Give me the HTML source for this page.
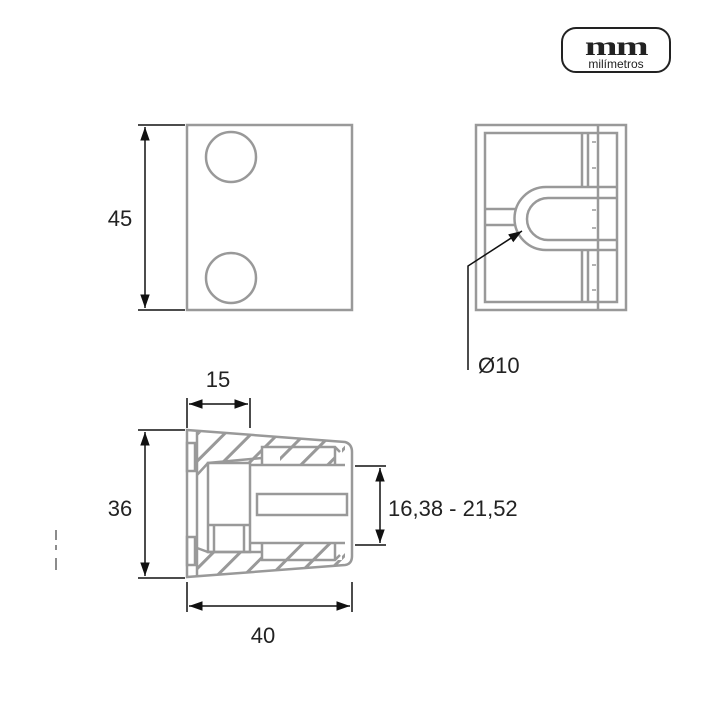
<!DOCTYPE html>
<html><head><meta charset="utf-8"><style>
html,body{margin:0;padding:0;background:#fff;}
svg{display:block;}
text{font-family:"Liberation Sans",sans-serif;fill:#222;}
</style></head><body>
<svg width="720" height="720" viewBox="0 0 720 720" xmlns="http://www.w3.org/2000/svg">
<defs>
<marker id="a" viewBox="0 0 10 10" refX="10" refY="5" markerWidth="9" markerHeight="9" orient="auto-start-reverse"><path d="M0,1.5 L10,5 L0,8.5 z" fill="#111"/></marker>
<pattern id="h" patternUnits="userSpaceOnUse" width="19" height="19" patternTransform="rotate(45)"><rect x="8" y="0" width="3" height="19" fill="#999"/></pattern>
<clipPath id="c1"><path d="M197,432 L345,442 L345,465 L250,465 L250,463 L208,463 L197,475 Z"/></clipPath>
<clipPath id="c2"><path d="M197,576 L345,564 L345,543 L250,543 L250,552 L208,552 L197,548 Z"/></clipPath>
</defs>
<rect x="562" y="28" width="108" height="44" rx="14" fill="none" stroke="#222" stroke-width="2"/>
<text x="616" y="55" text-anchor="middle" transform="translate(616 0) scale(1.45 1) translate(-616 0)" style="font-family:'Liberation Serif',serif;font-weight:bold;font-size:27px;letter-spacing:-1px" fill="#111">mm</text>
<text x="616" y="68" text-anchor="middle" font-size="12">milímetros</text>
<path d="M56,530 v10 M56,545 v5 M56,558 v12" stroke="#666" stroke-width="1.5"/>

<g fill="none" stroke="#999" stroke-width="2.5">
<rect x="187" y="125" width="165" height="185"/>
<circle cx="231" cy="157" r="25"/>
<circle cx="231" cy="278" r="25"/>
<rect x="476" y="125" width="150" height="185"/>
<rect x="485" y="133" width="132" height="169"/>
<line x1="598" y1="125" x2="598" y2="310"/>
<path d="M582,133 V187 M588,133 V187 M582,250 V302 M588,250 V302"/>
<path d="M617,187 H546 A31,31 0 0 0 546,250 H617"/>
<path d="M617,198 H548 A21,21 0 0 0 548,240 H617"/>
<path d="M485,209 H515 M485,225 H515"/>
<path d="M592,142 h4 M592,168 h4 M592,210 h4 M592,228 h4 M592,265 h4 M592,290 h4" stroke-width="1.5"/>
<g clip-path="url(#c1)"><rect x="180" y="420" width="180" height="60" fill="url(#h)" stroke="none"/></g>
<g clip-path="url(#c2)"><rect x="180" y="530" width="180" height="60" fill="url(#h)" stroke="none"/></g>
<rect x="262" y="446" width="80" height="19" fill="#fff" stroke="none"/>
<rect x="262" y="543" width="80" height="17" fill="#fff" stroke="none"/>
<g clip-path="url(#c1)"><rect x="280" y="447" width="56" height="18" fill="url(#h)" stroke="none"/></g>
<g clip-path="url(#c2)"><rect x="280" y="543" width="56" height="17" fill="url(#h)" stroke="none"/></g>
<path d="M187,430 L345,442 Q352,444 352,452 V556 Q352,564 345,565 L187,577 Z"/>
<path d="M197,432 V576"/>
<rect x="187" y="443" width="8" height="28"/>
<rect x="187" y="537" width="8" height="28"/>
<path d="M197,475 L208,463 L262,458"/>
<path d="M197,548 L208,552 H262"/>
<rect x="208" y="463" width="42" height="89"/>
<path d="M208,525 H250 M214,525 V552 M244,525 V552"/>
<path d="M250,465 H345 M250,543 H345"/>
<path d="M262,465 V447 H335 L340,452 M262,543 V560 H335 L340,555"/>
<path d="M335,447 V465 M335,543 V560"/>
<rect x="257" y="494" width="90" height="21"/>
</g>

<g stroke="#111" stroke-width="1.5" fill="none">
<path d="M138,125 H185 M138,310 H185"/>
<line x1="145" y1="127" x2="145" y2="308" marker-start="url(#a)" marker-end="url(#a)"/>
<path d="M468,370 V266 L522,231" marker-end="url(#a)"/>
<path d="M187,398 V428 M250,398 V428"/>
<line x1="189" y1="404" x2="248" y2="404" marker-start="url(#a)" marker-end="url(#a)"/>
<path d="M138,430 H185 M138,578 H185"/>
<line x1="145" y1="432" x2="145" y2="576" marker-start="url(#a)" marker-end="url(#a)"/>
<path d="M187,582 V612 M352,582 V612"/>
<line x1="189" y1="606" x2="350" y2="606" marker-start="url(#a)" marker-end="url(#a)"/>
<path d="M355,466 H386 M355,545 H386"/>
<line x1="380" y1="468" x2="380" y2="543" marker-start="url(#a)" marker-end="url(#a)"/>
</g>

<g font-size="22">
<text x="120" y="226" text-anchor="middle">45</text>
<text x="478" y="373">Ø10</text>
<text x="218" y="387" text-anchor="middle">15</text>
<text x="120" y="516" text-anchor="middle">36</text>
<text x="263" y="643" text-anchor="middle">40</text>
<text x="388" y="516">16,38 - 21,52</text>
</g>
</svg>
</body></html>
